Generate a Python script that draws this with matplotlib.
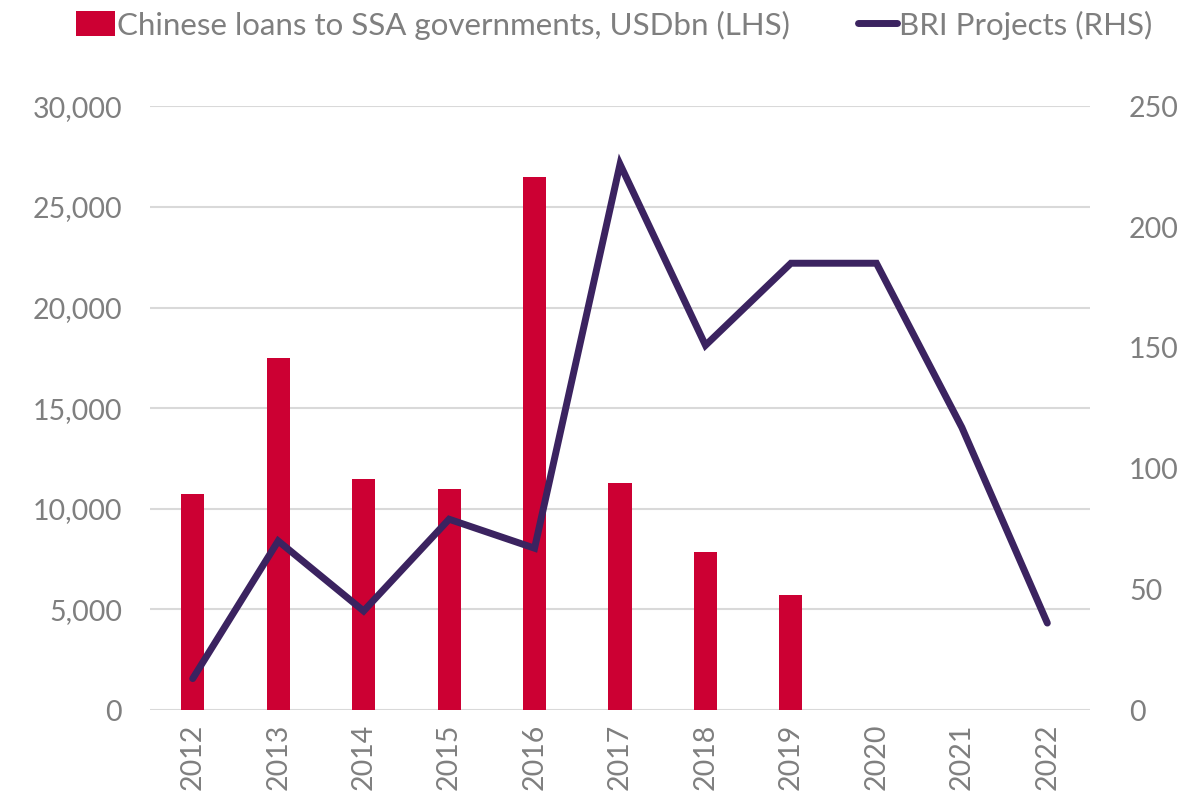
import numpy as np
import matplotlib.pyplot as plt
from matplotlib.ticker import FuncFormatter

plt.rcParams['font.family'] = ['Lato', 'DejaVu Sans']

# --- data ---
years = ['2012', '2013', '2014', '2015', '2016', '2017', '2018', '2019', '2020', '2021', '2022']
loans = [10750, 17500, 11500, 11000, 26500, 11280, 7850, 5700, np.nan, np.nan, np.nan]  # USDbn
bri_projects = [13, 70, 41, 79, 67, 226, 151, 185, 185, 117, 36]

bar_color = '#CC0033'
line_color = '#3B2360'
text_color = '#7F7F7F'
grid_color = '#D9D9D9'

fig = plt.figure(figsize=(11.81, 8.05), dpi=100)
ax = fig.add_axes([0.127, 0.118, 0.796, 0.750])
ax2 = ax.twinx()

x = np.arange(len(years))
ax.bar(x, loans, width=0.27, color=bar_color, zorder=2,
       label='Chinese loans to SSA governments, USDbn (LHS)')
ax2.plot(x, bri_projects, color=line_color, lw=5, solid_capstyle='round',
         solid_joinstyle='miter', zorder=3, label='BRI Projects (RHS)')

ax.set_xlim(-0.5, len(years) - 0.5)
ax.set_ylim(0, 30000)
ax.set_yticks(np.arange(0, 30001, 5000))
ax.yaxis.set_major_formatter(FuncFormatter(lambda v, p: f'{int(v):,}'))
ax2.set_ylim(0, 250)
ax2.set_yticks(np.arange(0, 251, 50))

ax.set_xticks(x)
ax.set_xticklabels(years, rotation=90)

ax.grid(axis='y', color=grid_color, lw=1.5, zorder=0)
ax.set_axisbelow(True)
for a in (ax, ax2):
    for s in a.spines.values():
        s.set_visible(False)
    a.tick_params(length=0, labelsize=20.5, colors=text_color)
ax.tick_params(axis='y', pad=20)
ax.tick_params(axis='x', pad=10)
ax2.tick_params(axis='y', pad=28)

h1, l1 = ax.get_legend_handles_labels()
h2, l2 = ax2.get_legend_handles_labels()
fig.legend(h1 + h2, l1 + l2, loc='upper center', bbox_to_anchor=(0.52, 1.022), ncol=2,
           frameon=False, fontsize=22.5, labelcolor=text_color, handlelength=1.25,
           handleheight=0.85, handletextpad=0.05, columnspacing=2.2)

fig.savefig('out.png', dpi=100, facecolor='white')
